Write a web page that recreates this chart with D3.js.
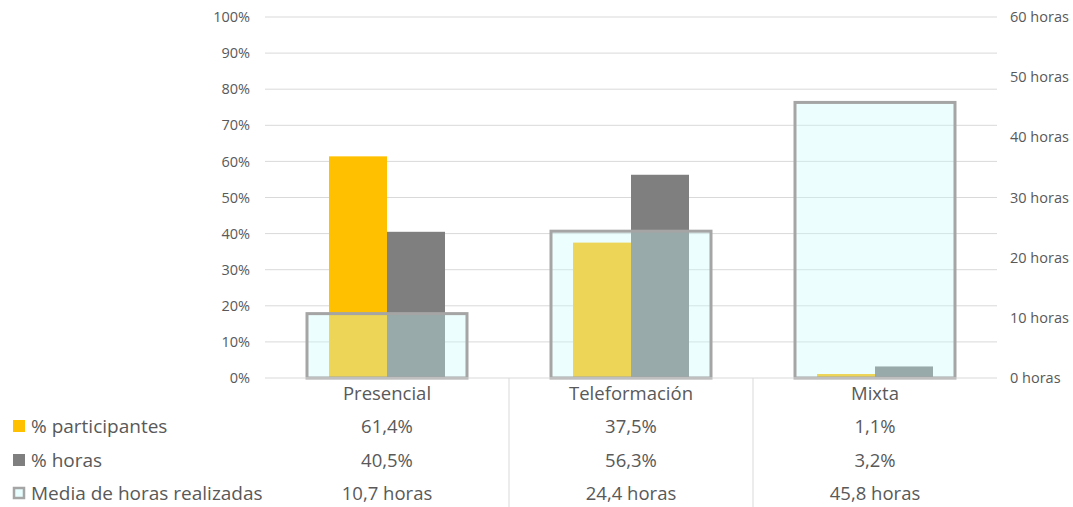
<!DOCTYPE html>
<html>
<head>
<meta charset="utf-8">
<style>
body { margin: 0; background: #fff; }
text { font-family: "Open Sans", "Noto Sans", sans-serif; fill: #595959; }
</style>
</head>
<body>
<script src="https://d3js.org/d3.v7.min.js"></script>
<script>
var categories = ["Presencial", "Teleformación", "Mixta"];
var participantes = [61.4, 37.5, 1.1];
var horasPct = [40.5, 56.3, 3.2];
var mediaHoras = [10.7, 24.4, 45.8];
var leftTicks = [0, 10, 20, 30, 40, 50, 60, 70, 80, 90, 100];
var rightTicks = [0, 10, 20, 30, 40, 50, 60];
var seriesNames = ["% participantes", "% horas", "Media de horas realizadas"];
var rowLabels = [
  participantes.map(function(d) { return d.toFixed(1).replace(".", ",") + "%"; }),
  horasPct.map(function(d) { return d.toFixed(1).replace(".", ",") + "%"; }),
  mediaHoras.map(function(d) { return d.toFixed(1).replace(".", ",") + " horas"; })
];

var width = 1073, height = 507;
var plotLeft = 265, plotRight = 997, plotTop = 17, plotBottom = 378;

var svg = d3.select("body")
  .append("svg")
  .attr("width", width)
  .attr("height", height);

var x = d3.scaleBand()
  .domain(categories)
  .range([plotLeft, plotRight]);

var yPct = d3.scaleLinear()
  .domain([0, 100])
  .range([plotBottom, plotTop]);

var yHrs = d3.scaleLinear()
  .domain([0, 60])
  .range([plotBottom, plotTop]);

// gridlines
svg.append("g")
  .selectAll("line")
  .data(leftTicks.slice(1))
  .enter().append("line")
  .attr("x1", plotLeft)
  .attr("x2", plotRight)
  .attr("y1", function(d) { return yPct(d); })
  .attr("y2", function(d) { return yPct(d); })
  .attr("stroke", "#d9d9d9")
  .attr("stroke-width", 1);

// left axis labels
var leftAxis = svg.append("g")
  .attr("transform", "translate(" + (plotLeft - 15) + ",0)")
  .call(d3.axisLeft(yPct).tickValues(leftTicks).tickSize(0).tickPadding(0)
    .tickFormat(function(d) { return d + "%"; }));
leftAxis.select(".domain").remove();
leftAxis.selectAll("text").style("font-size", "14.5px").attr("fill", "#595959")
  .style("font-family", "'Open Sans', sans-serif");

// right axis labels
var rightAxis = svg.append("g")
  .attr("transform", "translate(" + (plotRight + 13) + ",0)")
  .call(d3.axisRight(yHrs).tickValues(rightTicks).tickSize(0).tickPadding(0)
    .tickFormat(function(d) { return d + " horas"; }));
rightAxis.select(".domain").remove();
rightAxis.selectAll("text").style("font-size", "14.5px").attr("fill", "#595959")
  .style("font-family", "'Open Sans', sans-serif");

var barW = 58;
var boxW = 160;

// % participantes
svg.append("g")
  .selectAll("rect")
  .data(participantes)
  .enter().append("rect")
  .attr("x", function(d, i) { return x(categories[i]) + x.bandwidth() / 2 - barW; })
  .attr("y", function(d) { return yPct(d); })
  .attr("width", barW)
  .attr("height", function(d) { return plotBottom - yPct(d); })
  .attr("fill", "#ffc000");

// % horas
svg.append("g")
  .selectAll("rect")
  .data(horasPct)
  .enter().append("rect")
  .attr("x", function(d, i) { return x(categories[i]) + x.bandwidth() / 2; })
  .attr("y", function(d) { return yPct(d); })
  .attr("width", barW)
  .attr("height", function(d) { return plotBottom - yPct(d); })
  .attr("fill", "#7f7f7f");

// media de horas (overlay)
svg.append("g")
  .selectAll("rect")
  .data(mediaHoras)
  .enter().append("rect")
  .attr("x", function(d, i) { return x(categories[i]) + x.bandwidth() / 2 - boxW / 2; })
  .attr("y", function(d) { return yHrs(d); })
  .attr("width", boxW)
  .attr("height", function(d) { return plotBottom - yHrs(d); })
  .attr("fill", "rgba(200,252,250,0.35)")
  .attr("stroke", "#a5a5a5")
  .attr("stroke-width", 3);

// axis line
svg.append("line")
  .attr("x1", plotLeft).attr("x2", plotRight)
  .attr("y1", plotBottom).attr("y2", plotBottom)
  .attr("stroke", "#d9d9d9").attr("stroke-width", 1);

// table separators
svg.append("g")
  .selectAll("line")
  .data(categories.slice(1))
  .enter().append("line")
  .attr("x1", function(d) { return x(d); })
  .attr("x2", function(d) { return x(d); })
  .attr("y1", plotBottom)
  .attr("y2", height)
  .attr("stroke", "#d9d9d9");

// category labels
svg.append("g")
  .selectAll("text")
  .data(categories)
  .enter().append("text")
  .attr("x", function(d) { return x(d) + x.bandwidth() / 2; })
  .attr("y", 400)
  .attr("text-anchor", "middle")
  .style("font-size", "18.5px")
  .text(function(d) { return d; });

// data table rows
var rowY = [433, 467, 500];
rowLabels.forEach(function(row, r) {
  svg.append("g")
    .selectAll("text")
    .data(row)
    .enter().append("text")
    .attr("x", function(d, i) { return x(categories[i]) + x.bandwidth() / 2; })
    .attr("y", rowY[r])
    .attr("text-anchor", "middle")
    .style("font-size", "18.5px")
    .text(function(d) { return d; });
});

// legend keys
var keyFill = ["#ffc000", "#7f7f7f", "#e8fdfd"];
var keyStroke = ["none", "none", "#a5a5a5"];
var legend = svg.append("g")
  .selectAll("g")
  .data(seriesNames)
  .enter().append("g")
  .attr("transform", function(d, i) { return "translate(0," + rowY[i] + ")"; });
legend.append("rect")
  .attr("x", function(d, i) { return i == 2 ? 14 : 13; })
  .attr("y", function(d, i) { return i == 2 ? -12 : -13; })
  .attr("width", function(d, i) { return i == 2 ? 10 : 12; })
  .attr("height", function(d, i) { return i == 2 ? 10 : 12; })
  .attr("fill", function(d, i) { return keyFill[i]; })
  .attr("stroke", function(d, i) { return keyStroke[i]; })
  .attr("stroke-width", 2.5);
legend.append("text")
  .attr("x", 31)
  .attr("y", 0)
  .style("font-size", "19px")
  .text(function(d) { return d; });
</script>
</body>
</html>
